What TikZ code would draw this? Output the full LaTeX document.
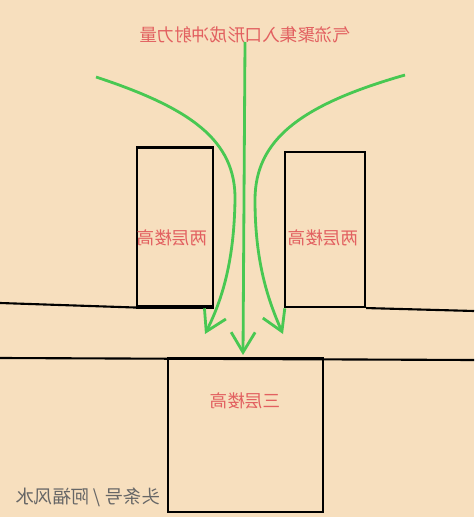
\documentclass[tikz,border=0pt]{standalone}
\usepackage{fontspec}
\usepackage{graphicx}
\newfontfamily\cjk{Noto Sans CJK SC}
\usetikzlibrary{arrows.meta,positioning}
\definecolor{paper}{RGB}{247,223,190}
\definecolor{flow}{RGB}{72,200,82}
\definecolor{note}{RGB}{226,96,96}
\newcommand{\flip}[1]{\scalebox{-1}[1]{#1}}

\begin{document}
\begin{tikzpicture}[x=0.02cm, y=-0.02cm, >={Straight Barb[length=0.4cm,width=0.48cm]},
  bld/.style={draw, line width=1.2pt, inner sep=0pt},
  tag/.style={text=note, font=\cjk\fontsize{10}{12}\selectfont},
  wind/.style={flow, line width=1.6pt, ->}]
\fill[paper] (0,0) rectangle (474,517);
\useasboundingbox (0,0) rectangle (474,517);

% buildings
\node (lbld) at (175,227) [bld, minimum width=1.52cm, minimum height=3.18cm] {};
\node (rbld) at (325,229.5) [bld, minimum width=1.6cm, minimum height=3.1cm] {};
\node (bbld) at (245.5,435) [bld, minimum width=3.1cm, minimum height=3.08cm] {};

% roads
\coordinate (roadL) at (0,303);
\coordinate (roadR) at (474,311);
\coordinate (lowL) at (0,358);
\coordinate (lowR) at (474,360);
\draw [line width=1.2pt] (roadL) -- (lbld.south west);
\draw [line width=1.2pt] (rbld.south east) -- (roadR);
\draw [line width=1.2pt] (lbld.south west) -- (lbld.south east);
\draw [line width=1.2pt] (lowL) -- (lowR);

% labels
\node (title) at (245,35) [tag] {\flip{气流聚集入口形成冲射力量}};
\node (ltag) at (172,238) [tag] {\flip{两层楼高}};
\node (rtag) at (323,238) [tag] {\flip{两层楼高}};
\node (btag) at (245,401) [tag] {\flip{三层楼高}};
\node (mark) at (88,497) [text=black!60, font=\cjk\fontsize{10.5}{12}\selectfont] {\flip{头条号 / 阿福风水}};

% air flow
\coordinate (cin) at (245,42);
\coordinate (cout) at (243,355);
\coordinate (lin) at (96,77);
\coordinate (lout) at (205,334);
\coordinate (rin) at (405,75);
\coordinate (rout) at (283,334);
\draw [wind] (cin) -- (cout);
\draw [wind] (lin) .. controls (190,108) and (236,140) .. (235,200) .. controls (234,262) and (222,300) .. (lout);
\draw [wind] (rin) .. controls (300,105) and (255,140) .. (255,200) .. controls (255,262) and (268,300) .. (rout);
\end{tikzpicture}
\end{document}
